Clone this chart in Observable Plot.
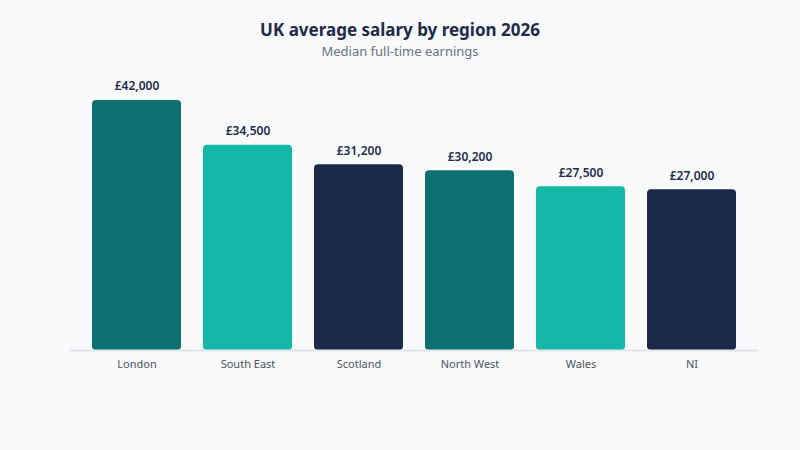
<!DOCTYPE html>
<html>
<head>
<meta charset="utf-8">
<script src="https://cdn.jsdelivr.net/npm/d3@7"></script>
<script src="https://cdn.jsdelivr.net/npm/@observablehq/plot@0.6"></script>
<style>
  html, body { margin: 0; padding: 0; background: #f8fafc; }
  body { width: 800px; height: 450px; position: relative; overflow: hidden; font-family: "Noto Sans", sans-serif; }
  #title { position: absolute; top: 19px; left: 0; width: 800px; text-align: center; font-size: 17px; font-weight: 700; color: #1e2a4a; line-height: 22px; }
  #subtitle { position: absolute; top: 42px; left: 0; width: 800px; text-align: center; font-size: 13px; color: #6b7280; line-height: 18px; }
  #chart { position: absolute; top: 70px; left: 0; }
</style>
</head>
<body>
<div id="title">UK average salary by region 2026</div>
<div id="subtitle">Median full-time earnings</div>
<div id="chart"></div>
<script>
const regions = ["London", "South East", "Scotland", "North West", "Wales", "NI"];
const salaries = [42000, 34500, 31200, 30200, 27500, 27000];
const barColors = ["#0e7070", "#14b8a6", "#1c2a4a", "#0e7070", "#14b8a6", "#1c2a4a"];

const data = regions.map((r, i) => ({region: r, salary: salaries[i], color: barColors[i]}));
const fmt = v => "£" + d3.format(",")(v);

const chart = Plot.plot({
  width: 800,
  height: 310,
  marginTop: 30,
  marginBottom: 30,
  marginLeft: 69,
  marginRight: 41,
  style: {background: "transparent", fontFamily: "Noto Sans, sans-serif"},
  x: {domain: regions, padding: 0.2, label: null, tickSize: 0, tickPadding: 9},
  y: {domain: [0, 42000], axis: null},
  marks: [
    Plot.barY(data, {x: "region", y: "salary", fill: "color", rx: 4}),
    Plot.ruleY([0], {stroke: "#e2e5ea", strokeWidth: 2}),
    Plot.text(data, {x: "region", y: "salary", text: d => fmt(d.salary), dy: -14, fill: "#1e2a4a", fontSize: 12, fontWeight: 600}),
    Plot.axisX({tickSize: 0, tickPadding: 10, fontSize: 11, color: "#4b5563", label: null})
  ]
});
document.getElementById("chart").appendChild(chart);
</script>
</body>
</html>
